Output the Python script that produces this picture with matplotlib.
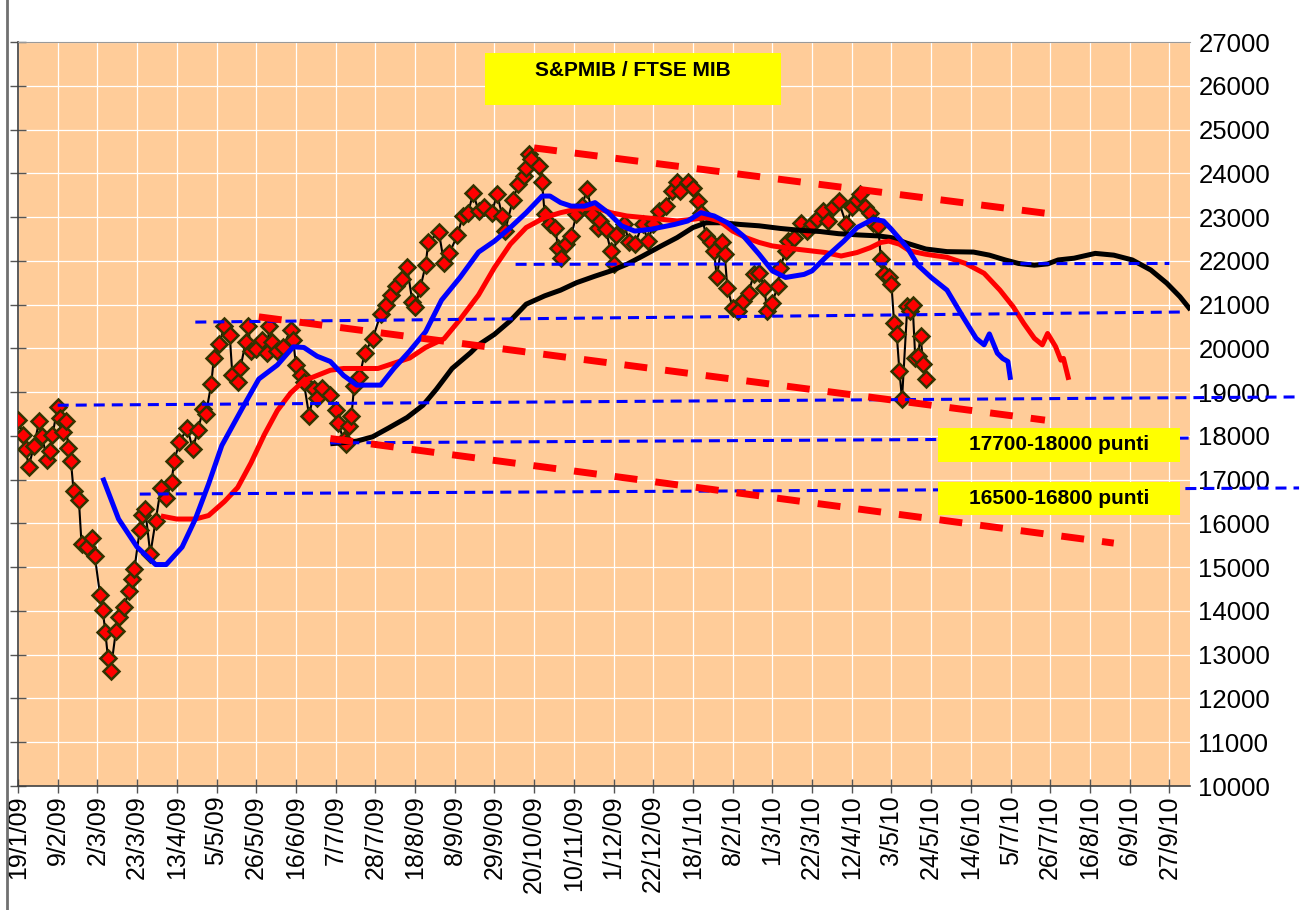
import matplotlib
matplotlib.use('Agg')
import matplotlib.pyplot as plt
from matplotlib.patches import Rectangle
from matplotlib.lines import Line2D

# ---------------- data ----------------
date_labels = ["19/1/09", "9/2/09", "2/3/09", "23/3/09", "13/4/09", "5/5/09", "26/5/09",
               "16/6/09", "7/7/09", "28/7/09", "18/8/09", "8/9/09", "29/9/09", "20/10/09",
               "10/11/09", "1/12/09", "22/12/09", "18/1/10", "8/2/10", "1/3/10", "22/3/10",
               "12/4/10", "3/5/10", "24/5/10", "14/6/10", "5/7/10", "26/7/10", "16/8/10",
               "6/9/10", "27/9/10"]
days_per_label = 15  # trading days between two date labels

price_day = [0, 2, 3, 4, 6, 8, 9, 11, 12, 13, 15, 16, 17, 18, 19, 20, 21, 23, 24, 26, 28, 29,
             31, 32, 33, 34, 35, 37, 38, 40, 42, 43, 44, 46, 47, 48, 50, 52, 54, 56, 58, 59,
             61, 64, 66, 68, 70, 71, 73, 74, 76, 78, 80, 81, 83, 84, 86, 87, 88, 90, 92, 94,
             95, 96, 98, 100, 103, 104, 105, 107, 108, 110, 112, 113, 115, 118, 120, 121,
             123, 124, 125, 126, 127, 129, 131, 134, 137, 139, 141, 143, 145, 147, 149, 150,
             152, 154, 155, 159, 161, 163, 166, 168, 170, 172, 174, 176, 179, 181, 183, 184,
             187, 189, 191, 192, 193, 194, 197, 198, 199, 201, 203, 204, 205, 207, 209, 211,
             213, 215, 217, 219, 220, 222, 224, 225, 226, 229, 231, 233, 236, 238, 240, 242,
             245, 247, 249, 250, 253, 255, 257, 258, 260, 262, 263, 264, 266, 267, 268, 270,
             272, 274, 276, 278, 280, 282, 283, 285, 287, 288, 290, 291, 293, 296, 298, 300,
             302, 304, 306, 308, 310, 313, 315, 317, 318, 320, 322, 323, 325, 326, 327, 329,
             330, 331, 332, 333, 334, 336, 337, 338, 339, 340, 341, 342, 343]
price_val = [18360, 18020, 17700, 17290, 17760, 18340, 18000, 17460, 17660, 18020, 18660, 18420,
             18100, 18340, 17720, 17420, 16740, 16530, 15540, 15460, 15660, 15260,
             14370, 14020, 13520, 12920, 12630, 13550, 13860, 14100, 14460, 14740, 14960, 15860,
             16200, 16340, 15300, 16060, 16820, 16580, 16940, 17420,
             17860, 18180, 17700, 18140, 18620, 18500, 19180, 19780, 20100, 20500, 20300, 19380,
             19240, 19540, 20140, 20510, 19940, 19980, 20180, 19900,
             20500, 20140, 19940, 20020, 20420, 20180, 19620, 19380, 19220, 18460, 19060, 18860,
             19100, 18940, 18580, 18300,
             17900, 17820, 18220, 18460, 19140, 19340, 19900, 20220, 20780, 20980, 21220, 21420,
             21580, 21860, 21060, 20940,
             21380, 21900, 22420, 22660, 21940, 22180, 22580, 23020, 23100, 23540, 23140, 23220,
             23100, 23520, 23025, 22680,
             23400, 23750, 23940, 24130, 24450, 24320, 24170, 23790, 23060, 22830, 22760, 22300,
             22070, 22380, 22570, 23060,
             23250, 23630, 23060, 22760, 22900, 22720, 22225, 21920, 22600, 22830, 22420, 22380,
             22830, 22450, 22830, 23140,
             23250, 23600, 23790, 23600, 23790, 23670, 23370, 23100, 22570, 22420, 22225, 21620,
             22420, 22150, 21390, 20930,
             20855, 21080, 21270, 21690, 21730, 21390, 20855, 21040, 21420, 21845, 22225, 22450,
             22530, 22870, 22680, 22830,
             22950, 23140, 22910, 23220, 23370, 22830, 23220, 23400, 23520, 23220, 23100, 22870,
             22800, 22035, 21690, 21620,
             21460, 20590, 20320, 19490, 18840, 20970, 20855, 21000, 19790, 19830, 20280, 19640,
             19300]

ma_short_day = [32, 38, 45, 52, 56, 62, 67, 72, 77, 85, 91, 98, 104, 108, 113, 118, 123, 128,
                137, 142, 148, 154, 160, 167, 174, 180, 186, 192, 198, 201, 205, 209, 214, 218,
                223, 228, 233, 239, 248, 253, 258, 263, 268, 274, 280, 285, 290, 297, 300, 305,
                312, 317, 323, 327, 330, 336, 340, 345, 351, 357, 362, 365, 367, 370, 372, 374,
                375]
ma_short_val = [17045, 16100, 15460, 15060, 15060, 15460, 16100, 16900, 17780, 18660, 19300,
                19620, 20035, 20020, 19820, 19700, 19380, 19160, 19160, 19540, 19940, 20380,
                21100, 21620, 22200, 22450, 22760, 23100, 23480, 23480, 23330, 23250, 23250,
                23330, 23100, 22800, 22680, 22720, 22830, 22910, 23100, 23025, 22870, 22570,
                22150, 21770, 21620, 21690, 21770, 22070, 22450, 22760, 22950, 22910, 22720,
                22300, 21900, 21620, 21330, 20720, 20230, 20080, 20330, 19890, 19770, 19700,
                19280]

ma_mid_day = [54, 60, 67, 72, 78, 83, 88, 93, 98, 103, 108, 113, 118, 123, 130, 136, 142, 148,
              154, 161, 167, 174, 180, 186, 192, 199, 205, 211, 218, 224, 230, 236, 243, 249,
              255, 260, 265, 270, 275, 280, 285, 290, 295, 300, 305, 311, 317, 322, 326, 329,
              333, 337, 343, 351, 358, 365, 371, 376, 380, 384, 387, 389, 392, 394, 395, 397]
ma_mid_val = [16170, 16100, 16100, 16180, 16500, 16820, 17380, 18020, 18580, 18980, 19260,
              19380, 19500, 19540, 19540, 19540, 19660, 19780, 20020, 20220, 20660, 21220,
              21845, 22380, 22760, 22990, 23100, 23180, 23215, 23100, 23025, 22990, 22950,
              22910, 22950, 22990, 22910, 22680, 22530, 22420, 22340, 22300, 22260, 22225,
              22190, 22110, 22190, 22300, 22420, 22450, 22380, 22225, 22150, 22080, 21940,
              21715, 21330, 20950, 20570, 20230, 20080, 20340, 20040, 19730, 19770, 19280]

ma_long_day = [118, 123, 128, 134, 140, 147, 153, 158, 164, 171, 174, 180, 186, 192, 199, 205,
               211, 218, 224, 230, 236, 243, 249, 255, 260, 266, 273, 280, 288, 295, 303, 310,
               318, 325, 330, 336, 343, 351, 361, 367, 373, 378, 384, 389, 393, 399, 407, 414,
               421, 428, 434, 439, 443]
ma_long_val = [17820, 17845, 17880, 17980, 18180, 18420, 18700, 19060, 19540, 19900, 20080,
               20320, 20630, 21010, 21200, 21330, 21500, 21650, 21770, 21920, 22110, 22340,
               22530, 22760, 22870, 22870, 22830, 22800, 22740, 22700, 22670, 22620, 22590,
               22570, 22530, 22400, 22270, 22210, 22200, 22130, 22020, 21940, 21900, 21930,
               22020, 22060, 22170, 22130, 22020, 21790, 21490, 21180, 20880]

# horizontal support levels (blue dashed)
level_start_day = [15, 46, 118, 67, 188]
level_end_day = [484, 484, 444, 439, 435]
level_start_val = [18700, 16670, 17840, 20600, 21920]
level_end_val = [18890, 16810, 17950, 20830, 21940]
level_clip = [False, False, False, True, True]

# trend lines (red dashed)
trend_start_day = [195, 91, 118]
trend_end_day = [393, 388, 414]
trend_start_val = [24580, 20720, 17940]
trend_end_val = [23050, 18360, 15550]

title_text = "S&PMIB / FTSE MIB"
box_texts = ["17700-18000 punti", "16500-16800 punti"]

# ---------------- figure ----------------
plt.rcParams['font.family'] = ['Liberation Sans', 'DejaVu Sans']

W, H = 1306, 910
fig = plt.figure(figsize=(W / 100, H / 100), dpi=100)
fig.patch.set_facecolor('white')

L, R, B, T = 18, 1190, 786, 42
ax = fig.add_axes([L / W, 1 - B / H, (R - L) / W, (B - T) / H])
ax.set_facecolor('#FFCC99')
ax.set_xlim(0, 442.8)
ax.set_ylim(10000, 27000)

tick_pos = [i * days_per_label for i in range(len(date_labels))]
ax.set_xticks(tick_pos)
ax.set_xticklabels(date_labels, rotation=90, fontsize=18)
ax.set_yticks(range(10000, 27001, 1000))
ax.set_yticklabels([str(v) for v in range(10000, 27001, 1000)], fontsize=18.5)
ax.tick_params(axis='x', direction='inout', length=10, width=1, color='#555555', pad=1.5)
ax.tick_params(axis='y', direction='inout', length=11, width=1, color='#555555',
               left=True, right=False, labelleft=False, labelright=True, pad=0.5)
ax.grid(True, color='white', lw=0.9)
ax.set_axisbelow(True)

ax.spines['right'].set_visible(False)
ax.spines['top'].set_color('#999999')
ax.spines['top'].set_linestyle((0, (1, 1)))
ax.spines['top'].set_linewidth(0.8)
ax.spines['left'].set_color('#404040')
ax.spines['bottom'].set_color('#404040')
ax.spines['left'].set_linewidth(1.2)
ax.spines['bottom'].set_linewidth(1.2)

# price
ax.plot(price_day, price_val, color='black', lw=1.5, zorder=3)
ax.plot(price_day, price_val, ls='none', marker='D', ms=8, mfc='#FF0000', mec='#333300',
        mew=1.8, zorder=4)

# moving averages
ax.plot(ma_long_day, ma_long_val, color='black', lw=3.6, zorder=5, solid_capstyle='butt')
ax.plot(ma_mid_day, ma_mid_val, color='#FF0000', lw=3.6, zorder=5, solid_capstyle='butt')
ax.plot(ma_short_day, ma_short_val, color='#0000FF', lw=3.6, zorder=5, solid_capstyle='butt')

# support levels
for s0, s1, v0, v1, c in zip(level_start_day, level_end_day, level_start_val, level_end_val,
                             level_clip):
    ax.plot([s0, s1], [v0, v1], color='#0000FF', lw=2.2, ls=(0, (3.6, 2.3)),
            dash_capstyle='butt', zorder=6, clip_on=c)

# trend lines
for s0, s1, v0, v1 in zip(trend_start_day, trend_end_day, trend_start_val, trend_end_val):
    ax.plot([s0, s1], [v0, v1], color='#FF0000', lw=5, ls=(0, (3.3, 2.6)),
            dash_capstyle='butt', zorder=7)

# frame line at left
fig.add_artist(Line2D([7 / W, 7 / W], [0, 1], color='#707070', lw=2))

# yellow boxes
def ybox(x0, y0, x1, y1, text, ty):
    fig.add_artist(Rectangle((x0 / W, 1 - y1 / H), (x1 - x0) / W, (y1 - y0) / H,
                             transform=fig.transFigure, facecolor='#FFFF00', edgecolor='none',
                             zorder=10))
    fig.text((x0 + x1) / 2 / W, 1 - ty / H, text, ha='center', va='center', fontsize=15,
             fontweight='bold', color='black', zorder=11)

ybox(485, 53, 781, 105, title_text, 70)
ybox(938, 428, 1180, 462, box_texts[0], 444)
ybox(938, 482, 1180, 515, box_texts[1], 498)

fig.savefig('out.png', dpi=100, facecolor='white')
